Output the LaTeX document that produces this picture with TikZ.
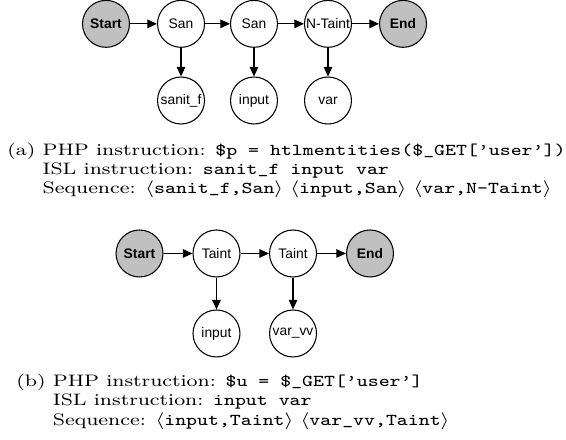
\documentclass[tikz,border=0pt]{standalone}
\usepackage{fontspec}
\usepackage{graphicx}
\usepackage{amsmath, amssymb}
\usetikzlibrary{arrows.meta, positioning}
\newfontfamily\diagfont{Liberation Sans}
\definecolor{stategray}{RGB}{192, 192, 192}
\newcommand{\widecap}[1]{\scalebox{1.24}[1]{#1}}

\begin{document}
\begin{tikzpicture}[
  state/.style={draw, circle, line width=0.5pt, minimum size=0.775cm, inner sep=0pt,
                font=\diagfont\fontsize{6.5}{7}\selectfont},
  term/.style={state, fill=stategray, font=\diagfont\bfseries\fontsize{6.5}{7}\selectfont},
  arr/.style={-{Triangle[length=4.5pt, width=4pt]}, line width=0.5pt},
  captext/.style={anchor=base west, inner sep=0pt, font=\fontsize{7.8}{9.1}\selectfont},
]
\useasboundingbox (0,0) rectangle (9.339, 7.2435);

% (a) sanitised input
\node[term] (startA) at (1.749, 6.85) {Start};
\node[state] (sanA) at (2.987, 6.85) {San};
\node[state] (sanB) at (4.191, 6.85) {San};
\node[state] (ntaint) at (5.412, 6.85) {N-Taint};
\node[term] (endA) at (6.650, 6.85) {End};
\node[state] (sanit) at (2.987, 5.585) {sanit\_f};
\node[state] (inputA) at (4.191, 5.585) {input};
\node[state] (varA) at (5.412, 5.585) {var};

\draw[arr] (startA) -- (sanA);
\draw[arr] (sanA) -- (sanB);
\draw[arr] (sanB) -- (ntaint);
\draw[arr] (ntaint) -- (endA);
\draw[arr] (sanA) -- (sanit);
\draw[arr] (sanB) -- (inputA);
\draw[arr] (ntaint) -- (varA);

\node[captext] (capA) at (0.1155, 4.686) {\widecap{\begin{tabular}[t]{@{}l@{ }l@{}}
(a) & PHP instruction: \texttt{\$p = htlmentities(\$\_GET[’user’])}\\
    & ISL instruction: \texttt{sanit\_f input var}\\
    & Sequence: $\langle$\texttt{sanit\_f,San}$\rangle$ $\langle$\texttt{input,San}$\rangle$ $\langle$\texttt{var,N-Taint}$\rangle$
\end{tabular}}};

% (b) tainted input
\node[term] (startB) at (2.302, 3.061) {Start};
\node[state] (taintA) at (3.572, 3.061) {Taint};
\node[state] (taintB) at (4.835, 3.061) {Taint};
\node[term] (endB) at (6.105, 3.061) {End};
\node[state] (inputB) at (3.572, 1.741) {input};
\node[state] (varvv) at (4.835, 1.741) {var\_vv};

\draw[arr] (startB) -- (taintA);
\draw[arr] (taintA) -- (taintB);
\draw[arr] (taintB) -- (endB);
\draw[arr] (taintA) -- (inputB);
\draw[arr] (taintB) -- (varvv);

\node[captext] (capB) at (0.264, 0.866) {\widecap{\begin{tabular}[t]{@{}l@{ }l@{}}
(b) & PHP instruction: \texttt{\$u = \$\_GET[’user’]}\\
    & ISL instruction: \texttt{input var}\\
    & Sequence: $\langle$\texttt{input,Taint}$\rangle$ $\langle$\texttt{var\_vv,Taint}$\rangle$
\end{tabular}}};
\end{tikzpicture}
\end{document}
